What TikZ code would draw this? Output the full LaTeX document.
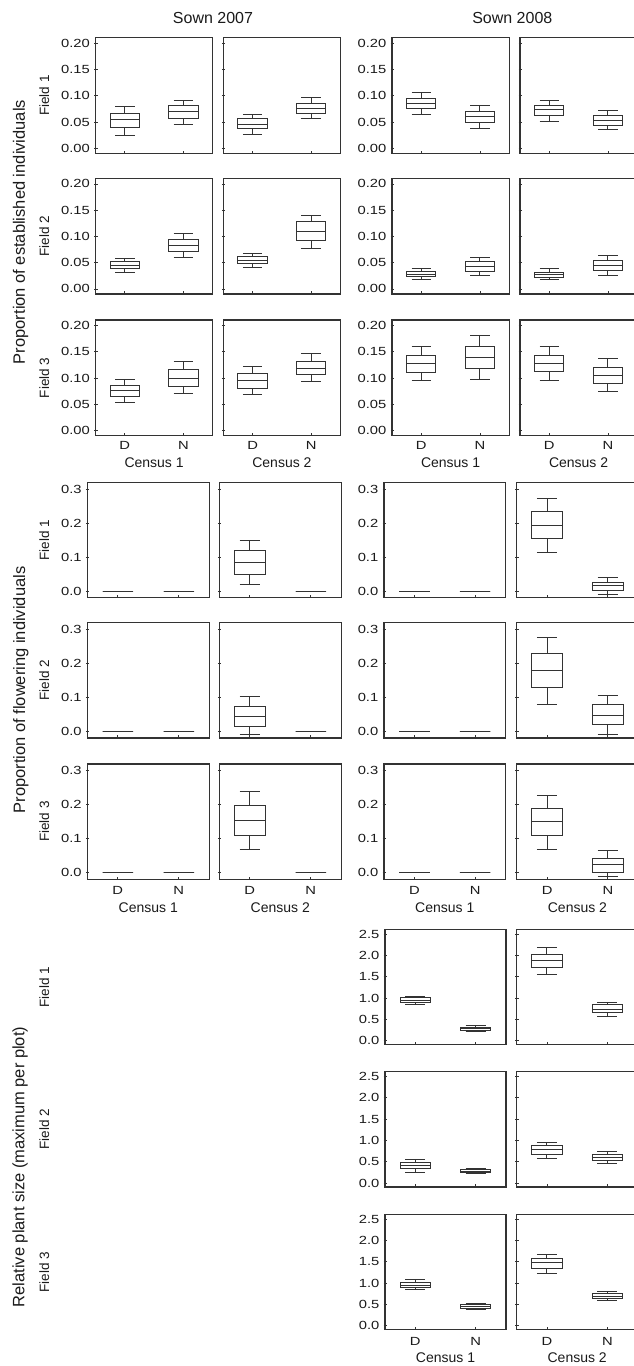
\documentclass[tikz,border=0pt]{standalone}
\usepackage{fontspec}
\setmainfont{Liberation Sans}
\newfontfamily\stretchf[FakeStretch=1.25]{Liberation Sans}
\definecolor{ink}{HTML}{1A1A1A}
\definecolor{ln}{HTML}{333333}
\tikzset{
  frame/.style={draw=ln, line width=1.3pt},
  bx/.style={draw=ln, line width=1pt},
  tk/.style={draw=ln, line width=0.8pt},
  ticklab/.style={anchor=east, inner sep=0pt, text=ink, font=\stretchf\fontsize{11.8}{12}\selectfont},
  catlab/.style={inner sep=0pt, text=ink, font=\stretchf\fontsize{11.8}{12}\selectfont},
  censlab/.style={inner sep=0pt, text=ink, font=\fontsize{14}{15}\selectfont},
  fieldlab/.style={inner sep=0pt, rotate=90, text=ink, font=\fontsize{13.5}{14}\selectfont},
  biglab/.style={inner sep=0pt, rotate=90, text=ink, font=\fontsize{16.5}{17}\selectfont},
  titlelab/.style={inner sep=0pt, text=ink, font=\fontsize{16}{17}\selectfont}
}
\newcommand{\SetSec}[5]{\def\zoff{#1}\def\ysc{#2}\def\ph{#3}\def\tickvals{#4}\def\ticklabs{#5}}
\newcommand{\Pnl}[4]{%
  \def\curL{#2}\def\curT{#3}\def\curW{#4}%
  \pgfmathsetmacro\curZ{#3+\zoff}%
  \pgfmathsetmacro\bw{0.125*#4}%
  \pgfmathsetmacro\cw{0.083*#4}%
  \pgfmathsetmacro\xD{#2+0.25*#4}%
  \pgfmathsetmacro\xN{#2+0.75*#4}%
  \draw[frame] (#2,#3) rectangle ({#2+#4},{#3+\ph});
  \draw[tk] (\xD,{#3+\ph}) -- ++(0,-2.7) (\xN,{#3+\ph}) -- ++(0,-2.7);
  \foreach \v in \tickvals {\draw[tk] ({#2-1.5},{\curZ-\v*\ysc}) -- ({#2+2},{\curZ-\v*\ysc});}
}
\newcommand{\PnlL}[4]{%
  \Pnl{#1}{#2}{#3}{#4}%
  \foreach \v/\t [count=\i] in \ticklabs {\node[ticklab] (yl-#1-\i) at ({#2-5.5},{\curZ-\v*\ysc}) {\t};}
}
\newcommand{\BX}[6]{%
  \pgfmathsetmacro\ya{\curZ-(#2)*\ysc}%
  \pgfmathsetmacro\yb{\curZ-(#3)*\ysc}%
  \pgfmathsetmacro\yc{\curZ-(#4)*\ysc}%
  \pgfmathsetmacro\yd{\curZ-(#5)*\ysc}%
  \pgfmathsetmacro\ye{\curZ-(#6)*\ysc}%
  \draw[bx] ({#1-\bw},\yb) rectangle ({#1+\bw},\yd);
  \draw[bx] ({#1-\bw},\yc) -- ({#1+\bw},\yc);
  \draw[bx] (#1,\yd) -- (#1,\ye) ({#1-\cw},\ye) -- ({#1+\cw},\ye);
  \draw[bx] (#1,\yb) -- (#1,\ya) ({#1-\cw},\ya) -- ({#1+\cw},\ya);
}
\newcommand{\boxD}[5]{\BX{\xD}{#1}{#2}{#3}{#4}{#5}}
\newcommand{\boxN}[5]{\BX{\xN}{#1}{#2}{#3}{#4}{#5}}
\newcommand{\Cats}[5]{%
  \node[catlab] (d-#1) at ({#2+0.25*#3},#4) {D};
  \node[catlab] (n-#1) at ({#2+0.75*#3},#4) {N};
}
\newcommand{\Cens}[5]{\node[censlab] (c-#1) at ({#2+0.5*#3},#4) {Census #5};}
\begin{document}
\begin{tikzpicture}[x=1pt,y=-1pt]
\useasboundingbox (0,0) rectangle (634,1366);
\clip (0,0) rectangle (634,1366);
% titles
\node[titlelab] (t07) at (213,17.5) {Sown 2007};
\node[titlelab] (t08) at (512.3,17.5) {Sown 2008};
\node[biglab] (lab1) at (20.5,232) {Proportion of established individuals};
\node[biglab] (lab2) at (20.8,690) {Proportion of flowering individuals};
\node[biglab] (lab3) at (20,1167) {Relative plant size (maximum per plot)};
% field labels
\node[fieldlab] (f11) at (44.3,95.5) {Field 1};
\node[fieldlab] (f12) at (44.3,236.1) {Field 2};
\node[fieldlab] (f13) at (44.3,377.8) {Field 3};
\node[fieldlab] (f21) at (44.3,540) {Field 1};
\node[fieldlab] (f22) at (44.3,680.4) {Field 2};
\node[fieldlab] (f23) at (44.3,821.7) {Field 3};
\node[fieldlab] (f31) at (44.3,987.2) {Field 1};
\node[fieldlab] (f32) at (44.3,1129.4) {Field 2};
\node[fieldlab] (f33) at (44.3,1272) {Field 3};
% ===== Section 1: established
\SetSec{110.6}{525}{115.6}{0,0.05,0.1,0.15,0.2}{0/0.00,0.05/0.05,0.1/0.10,0.15/0.15,0.2/0.20}
% row 1
\PnlL{a11}{95.5}{37.7}{117.2}
\boxD{0.025}{0.039}{0.054}{0.067}{0.079}\boxN{0.046}{0.057}{0.070}{0.081}{0.092}
\Pnl{a12}{223.3}{37.7}{117.2}
\boxD{0.027}{0.037}{0.046}{0.056}{0.065}\boxN{0.056}{0.066}{0.076}{0.086}{0.096}
\PnlL{a13}{392}{37.7}{117.2}
\boxD{0.065}{0.075}{0.085}{0.095}{0.106}\boxN{0.038}{0.049}{0.060}{0.071}{0.082}
\Pnl{a14}{520}{37.7}{117.2}
\boxD{0.052}{0.062}{0.073}{0.081}{0.092}\boxN{0.035}{0.043}{0.053}{0.062}{0.072}
% row 2
\PnlL{a21}{95.5}{178.3}{117.2}
\boxD{0.032}{0.038}{0.045}{0.052}{0.058}\boxN{0.060}{0.072}{0.083}{0.095}{0.106}
\Pnl{a22}{223.3}{178.3}{117.2}
\boxD{0.040}{0.048}{0.055}{0.062}{0.068}\boxN{0.077}{0.093}{0.110}{0.128}{0.140}
\PnlL{a23}{392}{178.3}{117.2}
\boxD{0.018}{0.024}{0.028}{0.033}{0.038}\boxN{0.025}{0.034}{0.042}{0.052}{0.060}
\Pnl{a24}{520}{178.3}{117.2}
\boxD{0.017}{0.022}{0.028}{0.032}{0.038}\boxN{0.025}{0.035}{0.044}{0.055}{0.064}
% row 3
\PnlL{a31}{95.5}{320}{117.2}
\boxD{0.054}{0.065}{0.076}{0.086}{0.098}\boxN{0.070}{0.084}{0.100}{0.116}{0.131}
\Pnl{a32}{223.3}{320}{117.2}
\boxD{0.068}{0.081}{0.095}{0.109}{0.122}\boxN{0.093}{0.106}{0.119}{0.132}{0.146}
\PnlL{a33}{392}{320}{117.2}
\boxD{0.095}{0.110}{0.127}{0.143}{0.160}\boxN{0.098}{0.118}{0.140}{0.160}{0.182}
\Pnl{a34}{520}{320}{117.2}
\boxD{0.095}{0.112}{0.128}{0.143}{0.160}\boxN{0.075}{0.090}{0.105}{0.120}{0.137}
\Cats{a1}{95.5}{117.2}{445.7}{}\Cens{a1}{95.5}{117.2}{463}{1}
\Cats{a2}{223.3}{117.2}{445.7}{}\Cens{a2}{223.3}{117.2}{463}{2}
\Cats{a3}{392}{117.2}{445.7}{}\Cens{a3}{392}{117.2}{463}{1}
\Cats{a4}{520}{117.2}{445.7}{}\Cens{a4}{520}{117.2}{463}{2}
% ===== Section 2: flowering
\SetSec{108.7}{340}{115.4}{0,0.1,0.2,0.3}{0/0.0,0.1/0.1,0.2/0.2,0.3/0.3}
% row 1
\PnlL{b11}{87.3}{482.3}{122}
\boxD{0}{0}{0}{0}{0}\boxN{0}{0}{0}{0}{0}
\Pnl{b12}{219.3}{482.3}{122}
\boxD{0.018}{0.050}{0.084}{0.118}{0.150}\boxN{0}{0}{0}{0}{0}
\PnlL{b13}{384}{482.3}{121.5}
\boxD{0}{0}{0}{0}{0}\boxN{0}{0}{0}{0}{0}
\Pnl{b14}{516.7}{482.3}{121.5}
\boxD{0.113}{0.153}{0.193}{0.233}{0.271}\boxN{-0.010}{0.001}{0.016}{0.026}{0.039}
% row 2
\PnlL{b21}{87.3}{622.7}{122}
\boxD{0}{0}{0}{0}{0}\boxN{0}{0}{0}{0}{0}
\Pnl{b22}{219.3}{622.7}{122}
\boxD{-0.010}{0.015}{0.045}{0.073}{0.103}\boxN{0}{0}{0}{0}{0}
\PnlL{b23}{384}{622.7}{121.5}
\boxD{0}{0}{0}{0}{0}\boxN{0}{0}{0}{0}{0}
\Pnl{b24}{516.7}{622.7}{121.5}
\boxD{0.078}{0.128}{0.178}{0.228}{0.275}\boxN{-0.010}{0.020}{0.048}{0.078}{0.105}
% row 3
\PnlL{b31}{87.3}{764}{122}
\boxD{0}{0}{0}{0}{0}\boxN{0}{0}{0}{0}{0}
\Pnl{b32}{219.3}{764}{122}
\boxD{0.067}{0.108}{0.153}{0.197}{0.238}\boxN{0}{0}{0}{0}{0}
\PnlL{b33}{384}{764}{121.5}
\boxD{0}{0}{0}{0}{0}\boxN{0}{0}{0}{0}{0}
\Pnl{b34}{516.7}{764}{121.5}
\boxD{0.068}{0.110}{0.150}{0.190}{0.228}\boxN{-0.010}{0.000}{0.025}{0.043}{0.065}
\Cats{b1}{87.3}{122}{890}{}\Cens{b1}{87.3}{122}{907.4}{1}
\Cats{b2}{219.3}{122}{890}{}\Cens{b2}{219.3}{122}{907.4}{2}
\Cats{b3}{384}{121.5}{890}{}\Cens{b3}{384}{121.5}{907.4}{1}
\Cats{b4}{516.7}{121.5}{890}{}\Cens{b4}{516.7}{121.5}{907.4}{2}
% ===== Section 3: plant size
\SetSec{111.3}{42.64}{115.3}{0,0.5,1,1.5,2,2.5}{0/0.0,0.5/0.5,1/1.0,1.5/1.5,2/2.0,2.5/2.5}
\PnlL{c13}{385}{929.5}{121}
\boxD{0.84}{0.89}{0.95}{1.01}{1.05}\boxN{0.22}{0.25}{0.28}{0.32}{0.36}
\Pnl{c14}{516.7}{929.5}{121}
\boxD{1.55}{1.72}{1.88}{2.03}{2.20}\boxN{0.57}{0.66}{0.74}{0.84}{0.91}
\PnlL{c23}{385}{1071.7}{121}
\boxD{0.25}{0.33}{0.405}{0.48}{0.56}\boxN{0.22}{0.24}{0.28}{0.31}{0.33}
\Pnl{c24}{516.7}{1071.7}{121}
\boxD{0.58}{0.67}{0.78}{0.87}{0.96}\boxN{0.45}{0.52}{0.60}{0.66}{0.74}
\PnlL{c33}{385}{1214.3}{121}
\boxD{0.84}{0.89}{0.95}{1.01}{1.08}\boxN{0.37}{0.41}{0.45}{0.49}{0.52}
\Pnl{c34}{516.7}{1214.3}{121}
\boxD{1.23}{1.35}{1.47}{1.58}{1.67}\boxN{0.58}{0.63}{0.69}{0.75}{0.80}
\Cats{c3}{385}{121}{1341.7}{}\Cens{c3}{385}{121}{1358}{1}
\Cats{c4}{516.7}{121}{1341.7}{}\Cens{c4}{516.7}{121}{1358}{2}
\end{tikzpicture}
\end{document}
